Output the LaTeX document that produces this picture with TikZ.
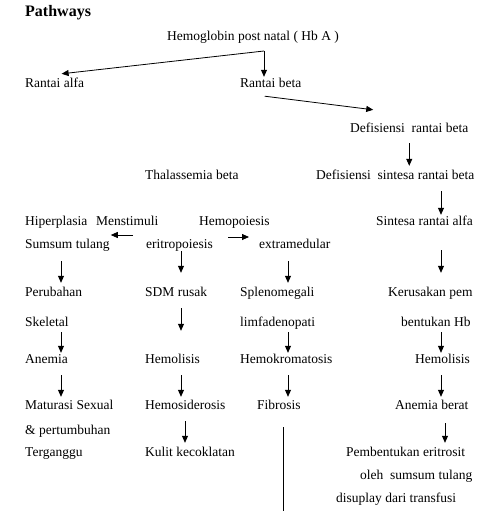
\documentclass[tikz,border=0pt]{standalone}
\usepackage{fontspec}
\setmainfont{Liberation Serif}
\usetikzlibrary{arrows.meta, calc}

\begin{document}
\begin{tikzpicture}[x=1pt, y=-1pt,
    every node/.style={anchor=west, inner sep=0pt, text height=9pt, text depth=3pt, font=\fontsize{13.5}{16}\selectfont},
    arr/.style={-{Triangle[length=7pt, width=6pt]}, line width=0.8pt}]
    \useasboundingbox (0,0) rectangle (481,511);
    \node[font=\bfseries\fontsize{16}{19}\selectfont] (title) at (25,14) {Pathways};
    \node (hb) at (167,38) {Hemoglobin post natal ( Hb A )};
    \node (ralfa) at (25,84) {Rantai alfa};
    \node (rbeta) at (240,84) {Rantai beta};
    \node (defr) at (350,129) {Defisiensi~ rantai beta};
    \node (thal) at (145,176) {Thalassemia beta};
    \node (defs) at (316,176) {Defisiensi~ sintesa rantai beta};
    \node (hiper) at (25,222) {Hiperplasia};
    \node (menst) at (96,222) {Menstimuli};
    \node (hemop) at (199,222) {Hemopoiesis};
    \node (sint) at (376,222) {Sintesa rantai alfa};
    \node (sumsum) at (25,245) {Sumsum tulang};
    \node (eritro) at (146,245) {eritropoiesis};
    \node (extra) at (259,245) {extramedular};
    \node (perub) at (25,293) {Perubahan};
    \node (sdm) at (145,293) {SDM rusak};
    \node (splen) at (240,293) {Splenomegali};
    \node (keru) at (388,293) {Kerusakan pem};
    \node (skel) at (25,323) {Skeletal};
    \node (limf) at (240,323) {limfadenopati};
    \node (bentuk) at (401,323) {bentukan Hb};
    \node (anem) at (25,360) {Anemia};
    \node (hemol1) at (145,360) {Hemolisis};
    \node (hemok) at (240,360) {Hemokromatosis};
    \node (hemol2) at (415,360) {Hemolisis};
    \node (matur) at (25,406) {Maturasi Sexual};
    \node (hemos) at (145,406) {Hemosiderosis};
    \node (fibro) at (257,406) {Fibrosis};
    \node (anemb) at (395,406) {Anemia berat};
    \node (pertum) at (25,431) {\& pertumbuhan};
    \node (tergang) at (25,453) {Terganggu};
    \node (kulit) at (145,453) {Kulit kecoklatan};
    \node (pemb) at (346,453) {Pembentukan eritrosit};
    \node (oleh) at (360,476) {oleh~ sumsum tulang};
    \node (disup) at (336,499) {disuplay dari transfusi};

    \coordinate (split) at (264,51);
    \coordinate (c1) at (61,0);
    \coordinate (c2) at (181,0);
    \coordinate (c3) at (288,0);
    \coordinate (c4) at (441,0);
    \coordinate (c5) at (445,0);
    \coordinate (c6) at (185,0);
    \coordinate (bottom) at (283,511);

    \draw[arr] (split) -- ([xshift=7pt, yshift=4pt]ralfa.north);
    \draw[arr] (split) -- ([yshift=1pt]split |- rbeta.north);
    \draw[arr] ([xshift=-6pt, yshift=-6pt]rbeta.south) -- ([xshift=-36pt, yshift=13pt]defr.north);
    \draw[arr, shorten <=8pt, shorten >=4pt] (defr.south) -- (defr.south |- defs.north);
    \draw[arr, shorten <=9pt, shorten >=1pt] (defs.south -| c4) -- (sint.north -| c4);
    \draw[arr, shorten <=22pt, shorten >=14pt] (sint.south -| c4) -- (keru.north -| c4);
    \draw[arr, shorten <=3pt, shorten >=1pt] (bentuk.south -| c4) -- (hemol2.north -| c4);
    \draw[arr, shorten <=9pt, shorten >=3pt] (hemol2.south -| c4) -- (anemb.north -| c4);
    \draw[arr, shorten <=11pt, shorten >=4pt] (anemb.south -| c5) -- (pemb.north -| c5);

    \draw[arr, shorten <=13pt, shorten >=1pt] ([yshift=10pt]eritro.west) -- ([yshift=10pt]sumsum.east);
    \draw[arr, shorten <=15pt, shorten >=10pt] ([yshift=8pt]eritro.east) -- ([yshift=8pt]extra.west);

    \draw[arr, shorten <=10pt, shorten >=4pt] (sumsum.south -| c1) -- (perub.north -| c1);
    \draw[arr, shorten <=3pt, shorten >=1pt] (skel.south -| c1) -- (anem.north -| c1);
    \draw[arr, shorten <=9pt, shorten >=3pt] (anem.south -| c1) -- (matur.north -| c1);

    \draw[arr, shorten <=0pt, shorten >=14pt] (eritro.south -| c2) -- (sdm.north -| c2);
    \draw[arr, shorten <=9pt, shorten >=23pt] (sdm.south -| c2) -- (hemol1.north -| c2);
    \draw[arr, shorten <=9pt, shorten >=3pt] (hemol1.south -| c2) -- (hemos.north -| c2);
    \draw[arr, shorten <=9pt, shorten >=4pt] (hemos.south -| c6) -- (kulit.north -| c6);

    \draw[arr, shorten <=10pt, shorten >=4pt] (extra.south -| c3) -- (splen.north -| c3);
    \draw[arr, shorten <=3pt, shorten >=1pt] (limf.south -| c3) -- (hemok.north -| c3);
    \draw[arr, shorten <=9pt, shorten >=3pt] (hemok.south -| c3) -- (fibro.north -| c3);
    \draw[line width=0.8pt, shorten <=15pt] (fibro.south -| bottom) -- (bottom);
\end{tikzpicture}
\end{document}
